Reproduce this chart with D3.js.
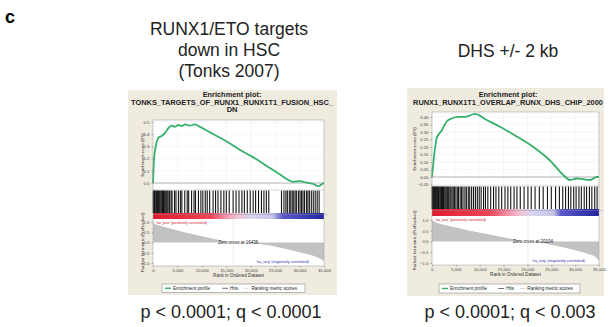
<!DOCTYPE html>
<html>
<head>
<meta charset="utf-8">
<script src="https://cdn.jsdelivr.net/npm/d3@7"></script>
<style>
  body { margin: 0; background: #fff; }
  svg { display: block; }
</style>
</head>
<body>
<svg id="chart" width="612" height="327"></svg>
<script>
// ---- data ----
const rankTicks = [0, 5000, 10000, 15000, 20000, 25000, 30000, 35000];
const metricTicks = [1.0, 0.5, 0.0, -0.5, -1.0];

// panel A: Tonks targets
const esTicksA = [0.0, 0.1, 0.2, 0.3, 0.4, 0.5];
const esRanksA = [0, 205, 614, 1090, 1780, 2460, 3140, 3820, 4500, 5180, 5870, 6550, 7570, 8600, 9620,
  10990, 13040, 15090, 17810, 20540, 23270, 26000, 27700, 28720, 30090, 31460, 32820, 33840, 34520, 35000];
const esValuesA = [0, 0.19, 0.31, 0.37, 0.385, 0.41, 0.45, 0.47, 0.46, 0.475, 0.467, 0.48, 0.47, 0.48, 0.46,
  0.43, 0.385, 0.34, 0.27, 0.21, 0.14, 0.07, 0.025, 0.01, 0.016, 0.003, -0.008, -0.025, -0.01, 0.003];
const hitsA = [50, 150, 300, 420, 600, 750, 900, 1100, 1250, 1400, 1600, 1800, 1950, 2150, 2300, 2500, 2700,
  2900, 3100, 3400, 3700, 3900, 4400, 4700, 5200, 5600, 5900, 6500, 7000, 7300, 7900, 8400, 8700, 9300, 9800,
  10200, 10700, 11100, 11600, 12300, 12800, 13300, 13900, 14500, 15000, 15600, 16400, 17000, 17600, 18200,
  18700, 19300, 19900, 20500, 21000, 21600, 22200, 22700, 23200, 23700, 26300, 26800, 27200, 27500, 27900,
  28200, 28500, 28800, 29100, 29400, 29800, 30100, 30400, 30700, 31000, 31400, 31700, 32000, 32400, 32800,
  33200, 33600, 34000];
const metricRanksA = [0, 300, 2000, 6000, 10000, 14000, 16400, 19000, 22000, 24000, 27000, 30000, 32500, 34000, 35000];
const metricValuesA = [1.0, 0.9, 0.78, 0.52, 0.3, 0.1, 0.0, -0.03, -0.08, -0.15, -0.3, -0.48, -0.62, -0.75, -0.9];
const barStopsA = [0, 12000, 15000, 17500, 20000, 24500, 26500, 35000];
const zeroCrossA = 16436;

// panel B: DHS +/- 2 kb
const esTicksB = [-0.05, 0.0, 0.05, 0.10, 0.15, 0.20, 0.25, 0.30, 0.35, 0.40];
const esRanksB = [0, 270, 990, 2030, 3080, 4130, 5510, 6900, 9000, 11460, 14250, 17750, 21230, 24730,
  27520, 28920, 30330, 31710, 33110, 34520, 35000];
const esValuesB = [0, 0.09, 0.26, 0.31, 0.37, 0.39, 0.40, 0.40, 0.42, 0.38, 0.335, 0.27, 0.20, 0.11,
  0.013, -0.02, -0.01, -0.015, -0.02, 0.0, 0.0];
const hitsB = [30, 120, 250, 380, 500, 640, 780, 900, 1050, 1200, 1350, 1500, 1700, 1850, 2000, 2200, 2400,
  2550, 2750, 2950, 3150, 3300, 3500, 3750, 3950, 4200, 4450, 4700, 5000, 5300, 5550, 5900, 6200, 6500, 6900,
  7200, 7600, 7900, 8300, 8700, 9100, 9500, 9900, 10300, 10800, 11200, 11700, 12300, 12900, 13400, 14000,
  14600, 15300, 15900, 16500, 17200, 17800, 18500, 19300, 20100, 20800, 21600, 22500, 23300, 24200, 25000,
  25900, 26700, 27400, 28000, 28600, 29100, 29700, 30200, 30800, 31300, 31900, 32400, 33000, 33500, 34100, 34600];
const metricRanksB = [0, 1000, 4000, 8000, 12000, 16000, 18500, 20000, 22000, 23500, 26000, 29000, 32000, 34000, 35000];
const metricValuesB = [1.0, 0.86, 0.7, 0.5, 0.32, 0.15, 0.05, 0.0, -0.03, -0.08, -0.2, -0.35, -0.52, -0.68, -0.88];
const barStopsB = [0, 12000, 16400, 18500, 21000, 25500, 27000, 35000];
const zeroCrossB = 20104;

const barColors = ["#e01a2c", "#ee4656", "#f29aae", "#efc4d4", "#d6d4ee", "#c4c4e6", "#5a5ac8", "#2424a0"];

// ---- styling ----
const font = "Liberation Sans, Arial, Helvetica, sans-serif";
const colors = {
  panel: "#efebdf",
  es: "#34b06a",
  metric: "#c2c2c2",
  frame: "#9a9a9a",
  tick: "#444",
  grid: "#ececec",
};

const svg = d3.select("#chart");

svg.append("text").text("c")
  .attr("x", 5).attr("y", 23)
  .style("font-family", font).style("font-size", "18px").style("font-weight", "700");

function drawPanel(p) {
  const g = svg.append("g");

  g.append("rect")
    .attr("x", p.panel[0]).attr("y", p.panel[1])
    .attr("width", p.panel[2]).attr("height", p.panel[3])
    .attr("fill", colors.panel);

  // headings above the panel
  p.heading.forEach((line, i) => {
    g.append("text").text(line)
      .attr("x", p.headingX).attr("y", p.headingY + i * 21)
      .attr("text-anchor", "middle")
      .style("font-family", font).style("font-size", "17.5px").style("fill", "#222");
  });

  p.title.forEach((line, i) => {
    g.append("text").text(line)
      .attr("x", p.titleX).attr("y", p.titleY + i * 7.6)
      .attr("text-anchor", "middle")
      .style("font-family", font).style("font-size", "7.4px").style("font-weight", "700").style("fill", "#222");
  });

  const x = d3.scaleLinear().domain([0, 35000]).range([p.x0, p.x1]);
  const yEs = d3.scaleLinear().domain(p.esDomain).range([p.esBottom, p.top]);
  const yMetric = d3.scaleLinear().domain([-1, 1]).range(p.metricRange);

  // white plot areas
  g.append("rect").attr("x", p.x0).attr("y", p.top)
    .attr("width", p.x1 - p.x0).attr("height", p.esBottom - p.top).attr("fill", "#fff");
  g.append("rect").attr("x", p.x0).attr("y", p.esBottom)
    .attr("width", p.x1 - p.x0).attr("height", p.hitsBottom - p.esBottom).attr("fill", "#fff");
  g.append("rect").attr("x", p.x0).attr("y", p.barBottom)
    .attr("width", p.x1 - p.x0).attr("height", p.metricBottom - p.barBottom).attr("fill", "#fff");

  // light grid in ES plot
  g.selectAll(null).data(p.esTicks).enter().append("line")
    .attr("x1", p.x0).attr("x2", p.x1)
    .attr("y1", (d) => yEs(d)).attr("y2", (d) => yEs(d))
    .attr("stroke", colors.grid).attr("stroke-width", 0.5);
  g.selectAll(null).data(rankTicks).enter().append("line")
    .attr("x1", (d) => x(d)).attr("x2", (d) => x(d))
    .attr("y1", p.top).attr("y2", p.esBottom)
    .attr("stroke", colors.grid).attr("stroke-width", 0.5);

  g.append("line").attr("x1", p.x0).attr("x2", p.x1)
    .attr("y1", yEs(0)).attr("y2", yEs(0))
    .attr("stroke", "#888").attr("stroke-width", 0.6);

  const esLine = d3.line()
    .x((d, i) => x(p.esRanks[i]))
    .y((d) => yEs(d))
    .curve(d3.curveMonotoneX);
  g.append("path").datum(p.esValues)
    .attr("d", esLine)
    .attr("fill", "none").attr("stroke", colors.es).attr("stroke-width", 1.8);

  // hits
  g.selectAll(null).data(p.hits).enter().append("line")
    .attr("x1", (d) => x(d)).attr("x2", (d) => x(d))
    .attr("y1", p.esBottom + 0.5).attr("y2", p.hitsBottom)
    .attr("stroke", "#151515").attr("stroke-width", 1.1);

  // colour bar
  const gradId = "grad" + p.id;
  const grad = svg.append("defs").append("linearGradient").attr("id", gradId)
    .attr("x1", "0%").attr("x2", "100%");
  p.barStops.forEach((r, i) => {
    grad.append("stop").attr("offset", (r / 35000 * 100) + "%").attr("stop-color", barColors[i]);
  });
  g.append("rect").attr("x", p.x0).attr("y", p.hitsBottom)
    .attr("width", p.x1 - p.x0).attr("height", p.barBottom - p.hitsBottom)
    .attr("fill", `url(#${gradId})`);
  g.append("line").attr("x1", p.x0).attr("x2", p.x1 + 4)
    .attr("y1", p.hitsBottom + 1.5).attr("y2", p.hitsBottom + 1.5)
    .attr("stroke", "#8888aa").attr("stroke-width", 0.4);

  // ranked list metric
  const area = d3.area()
    .x((d, i) => x(p.metricRanks[i]))
    .y0(yMetric(0))
    .y1((d) => yMetric(d));
  g.append("path").datum(p.metricValues)
    .attr("d", area).attr("fill", colors.metric);

  g.append("line").attr("x1", x(p.zeroCross)).attr("x2", x(p.zeroCross))
    .attr("y1", p.barBottom).attr("y2", p.metricBottom)
    .attr("stroke", "#bbb").attr("stroke-width", 0.5).attr("stroke-dasharray", "1,1");

  g.append("text").text("Zero cross at " + p.zeroCross)
    .attr("x", x(p.zeroCross) + 5).attr("y", yMetric(0) + 1.5)
    .attr("text-anchor", "middle")
    .style("font-family", font).style("font-size", "4.5px").style("fill", "#222");
  g.append("text").text("'na_pos' (positively correlated)")
    .attr("x", p.x0 + 3).attr("y", p.barBottom + 4.5)
    .style("font-family", font).style("font-size", "3.8px").style("fill", "#d02030");
  g.append("text").text("'na_neg' (negatively correlated)")
    .attr("x", x(26500)).attr("y", p.metricBottom - 3)
    .attr("text-anchor", "middle")
    .style("font-family", font).style("font-size", "3.8px").style("fill", "#3030b0");

  // frame
  g.append("rect").attr("x", p.x0).attr("y", p.top)
    .attr("width", p.x1 - p.x0).attr("height", p.metricBottom - p.top)
    .attr("fill", "none").attr("stroke", colors.frame).attr("stroke-width", 0.5);
  g.append("line").attr("x1", p.x0).attr("x2", p.x1)
    .attr("y1", p.esBottom).attr("y2", p.esBottom)
    .attr("stroke", colors.frame).attr("stroke-width", 0.4);

  // axes
  const esAxis = d3.axisLeft(yEs).tickValues(p.esTicks).tickSize(1.5).tickPadding(2)
    .tickFormat(d3.format(p.esFormat));
  g.append("g").attr("transform", `translate(${p.x0},0)`).call(esAxis);

  const metricAxis = d3.axisLeft(yMetric).tickValues(metricTicks).tickSize(1.5).tickPadding(2)
    .tickFormat(d3.format(".1f"));
  g.append("g").attr("transform", `translate(${p.x0},0)`).call(metricAxis);

  const rankAxis = d3.axisBottom(x).tickValues(rankTicks).tickSize(1.5).tickPadding(1.5)
    .tickFormat(d3.format(",d"));
  g.append("g").attr("transform", `translate(0,${p.metricBottom})`).call(rankAxis);

  g.selectAll(".domain").remove();
  g.selectAll(".tick text").style("font-family", font).style("font-size", "4.3px").style("fill", colors.tick);
  g.selectAll(".tick line").attr("stroke", colors.tick).attr("stroke-width", 0.4);

  g.append("text").text("Rank in Ordered Dataset")
    .attr("x", (p.x0 + p.x1) / 2).attr("y", p.metricBottom + 11)
    .attr("text-anchor", "middle")
    .style("font-family", font).style("font-size", "4.6px").style("fill", "#333");

  g.append("text").text("Enrichment score (ES)")
    .attr("transform", `translate(${p.yTitleX},${(p.top + p.esBottom) / 2}) rotate(-90)`)
    .attr("text-anchor", "middle")
    .style("font-family", font).style("font-size", "4.3px").style("fill", "#333");
  g.append("text").text("Ranked list metric (PreRanked)")
    .attr("transform", `translate(${p.yTitleX},${(p.barBottom + p.metricBottom) / 2}) rotate(-90)`)
    .attr("text-anchor", "middle")
    .style("font-family", font).style("font-size", "4.3px").style("fill", "#333");

  // legend
  const [lx, ly, lw, lh] = p.legend;
  const lg = g.append("g");
  lg.append("rect").attr("x", lx).attr("y", ly).attr("width", lw).attr("height", lh)
    .attr("fill", "#fff").attr("stroke", "#777").attr("stroke-width", 0.5);
  const items = [
    { label: "Enrichment profile", color: colors.es, w: 1.4, dx: 3 },
    { label: "Hits", color: "#111", w: 0.6, dx: lw * 0.42 },
    { label: "Ranking metric scores", color: colors.metric, w: 0.6, dx: lw * 0.57 },
  ];
  items.forEach((it) => {
    lg.append("line").attr("x1", lx + it.dx).attr("x2", lx + it.dx + 6)
      .attr("y1", ly + lh / 2).attr("y2", ly + lh / 2)
      .attr("stroke", it.color).attr("stroke-width", it.w);
    lg.append("text").text(it.label)
      .attr("x", lx + it.dx + 8).attr("y", ly + lh / 2 + 1.6)
      .style("font-family", font).style("font-size", "4.6px").style("fill", "#222");
  });

  g.append("text").text(p.stats)
    .attr("x", p.statsX).attr("y", 318)
    .attr("text-anchor", "middle")
    .style("font-family", font).style("font-size", "18px").style("fill", "#222");
}

drawPanel({
  id: "A",
  panel: [128, 90, 209, 205],
  heading: ["RUNX1/ETO targets", "down in HSC", "(Tonks 2007)"],
  headingX: 229, headingY: 34.5,
  title: ["Enrichment plot:", "TONKS_TARGETS_OF_RUNX1_RUNX1T1_FUSION_HSC_", "DN"],
  titleX: 232, titleY: 97,
  x0: 153, x1: 324, top: 120, esBottom: 190, hitsBottom: 213, barBottom: 219, metricBottom: 266,
  esDomain: [-0.057, 0.516], esTicks: esTicksA, esFormat: ".1f",
  metricRange: [263, 222],
  esRanks: esRanksA, esValues: esValuesA, hits: hitsA,
  metricRanks: metricRanksA, metricValues: metricValuesA,
  barStops: barStopsA, zeroCross: zeroCrossA,
  yTitleX: 144,
  legend: [162, 284, 143, 8.5],
  stats: "p < 0.0001; q < 0.0001", statsX: 231,
});

drawPanel({
  id: "B",
  panel: [407, 88, 197, 208],
  heading: ["DHS +/- 2 kb"],
  headingX: 508, headingY: 57,
  title: ["Enrichment plot:", "RUNX1_RUNX1T1_OVERLAP_RUNX_DHS_CHIP_2000"],
  titleX: 508, titleY: 97,
  x0: 432, x1: 599, top: 112, esBottom: 186, hitsBottom: 209, barBottom: 216, metricBottom: 265,
  esDomain: [-0.06, 0.433], esTicks: esTicksB, esFormat: ".2f",
  metricRange: [263, 220],
  esRanks: esRanksB, esValues: esValuesB, hits: hitsB,
  metricRanks: metricRanksB, metricValues: metricValuesB,
  barStops: barStopsB, zeroCross: zeroCrossB,
  yTitleX: 416,
  legend: [439, 284, 141, 9],
  stats: "p < 0.0001; q < 0.003", statsX: 510,
});
</script>
</body>
</html>
